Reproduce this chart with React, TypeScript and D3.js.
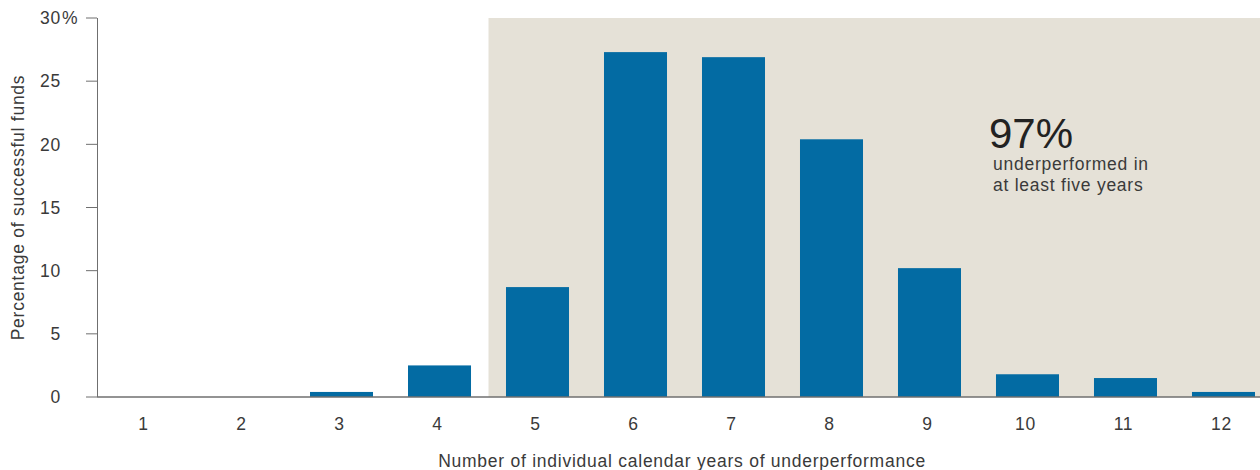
import React from "react";
import * as d3 from "d3";

const categories: string[] = ["1", "2", "3", "4", "5", "6", "7", "8", "9", "10", "11", "12"];
const values: number[] = [0, 0, 0.4, 2.5, 8.7, 27.3, 26.9, 20.4, 10.2, 1.8, 1.5, 0.4];
const yTicks: number[] = [0, 5, 10, 15, 20, 25, 30];
const shadedFrom = "5";
const calloutValue = "97%";
const calloutLines: string[] = ["underperformed in", "at least five years"];
const yTitle = "Percentage of successful funds";
const xTitle = "Number of individual calendar years of underperformance";

const W = 1260;
const H = 470;
const FONT = "'Liberation Sans', Arial, sans-serif";
const FS = 17.5;
const LS = 0.75;
const TXT = "#3a3a3a";

export default function App() {
  const x = d3
    .scaleBand<string>()
    .domain(categories)
    .range([99.5, 1269.5])
    .paddingInner(0.357)
    .paddingOuter(0.148);
  const y = d3.scaleLinear().domain([0, 30]).range([397, 18]);
  const step = x.step();
  const shadeX = (x(shadedFrom) as number) - (step * x.paddingInner()) / 2;

  return (
    <svg width={W} height={H} style={{ position: "absolute", left: 0, top: 0 }} fontFamily={FONT}>
      <rect x={0} y={0} width={W} height={H} fill="#fff" />
      <rect x={shadeX} y={y(30)} width={W - shadeX} height={y(0) - y(30)} fill="#e5e1d7" />
      {categories.map((c, i) => (
        <rect
          key={c}
          x={x(c)}
          y={y(values[i])}
          width={x.bandwidth()}
          height={y(0) - y(values[i])}
          fill="#036ba3"
        />
      ))}
      <line x1={97} x2={W} y1={y(0)} y2={y(0)} stroke="#6f6f6f" strokeWidth={1.5} />
      <line x1={97.5} x2={97.5} y1={y(30)} y2={y(0)} stroke="#6f6f6f" strokeWidth={1} />
      {yTicks.map((t) => (
        <g key={t}>
          <line x1={86} x2={97} y1={y(t)} y2={y(t)} stroke="#6f6f6f" strokeWidth={1} />
          <text x={61} y={y(t)} dy="0.36em" textAnchor="end" fontSize={FS} letterSpacing={LS} fill={TXT}>
            {t}
          </text>
          {t === 30 && (
            <text x={62} y={y(t)} dy="0.36em" textAnchor="start" fontSize={FS} fill={TXT}>
              %
            </text>
          )}
        </g>
      ))}
      {categories.map((c) => (
        <text
          key={c}
          x={(x(c) as number) + x.bandwidth() / 2 - 2}
          y={430}
          textAnchor="middle"
          fontSize={FS}
          letterSpacing={LS}
          fill={TXT}
        >
          {c}
        </text>
      ))}
      <text
        transform={`translate(24,${(y(0) + y(30)) / 2}) rotate(-90)`}
        textAnchor="middle"
        fontSize={FS}
        letterSpacing={LS}
        fill={TXT}
      >
        {yTitle}
      </text>
      <text x={682} y={467} textAnchor="middle" fontSize={FS} letterSpacing={LS} fill={TXT}>
        {xTitle}
      </text>
      <text x={989} y={148} fontSize={42} fill="#222">
        {calloutValue}
      </text>
      {calloutLines.map((l, i) => (
        <text key={l} x={993} y={170 + i * 20.5} fontSize={FS} letterSpacing={LS} fill={TXT}>
          {l}
        </text>
      ))}
    </svg>
  );
}
